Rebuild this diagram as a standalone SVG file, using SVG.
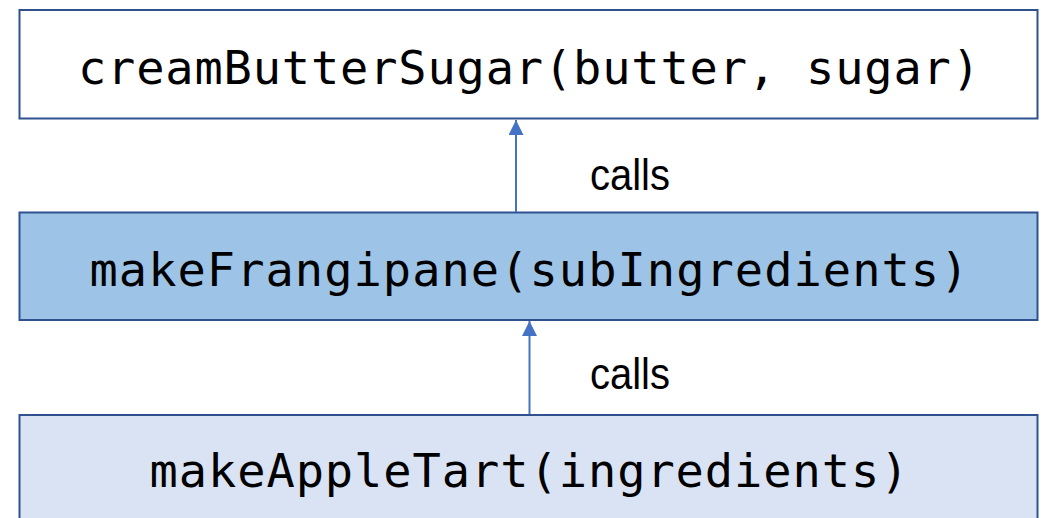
<svg xmlns="http://www.w3.org/2000/svg" width="1046" height="518" viewBox="0 0 1046 518">
<style>
.box{stroke:#2F528F;stroke-width:2}
.code{font-family:"DejaVu Sans Mono","Liberation Mono",monospace;font-size:47px;fill:#000;text-anchor:middle}
.lbl{font-family:"Liberation Sans",Arial,sans-serif;font-size:44px;fill:#000}
.conn{stroke:#4472C4;stroke-width:2;fill:none}
</style>
<defs>
<marker id="ah" viewBox="0 0 10 10" refX="10" refY="5" markerWidth="15" markerHeight="15" markerUnits="userSpaceOnUse" orient="auto">
<path d="M0,0 L10,5 L0,10 z" fill="#4472C4"/>
</marker>
</defs>
<rect width="1046" height="518" fill="#fff"/>
<g id="creamButterSugar">
<rect class="box" x="19.5" y="10" width="1018" height="108.5" fill="#fff"/>
<text class="code" x="529" y="84" textLength="902" lengthAdjust="spacing">creamButterSugar(butter, sugar)</text>
</g>
<g id="makeFrangipane">
<rect class="box" x="19.5" y="212.5" width="1018" height="107.5" fill="#9DC3E6"/>
<text class="code" x="529" y="286" textLength="879" lengthAdjust="spacing">makeFrangipane(subIngredients)</text>
</g>
<g id="makeAppleTart">
<rect class="box" x="19.5" y="415" width="1018" height="120" fill="#DAE3F3"/>
<text class="code" x="529" y="487" textLength="759" lengthAdjust="spacing">makeAppleTart(ingredients)</text>
</g>
<g id="connectors">
<line class="conn" x1="516" y1="212" x2="516" y2="120" marker-end="url(#ah)"/>
<line class="conn" x1="529.5" y1="414" x2="529.5" y2="321" marker-end="url(#ah)"/>
<text class="lbl" x="590" y="190" textLength="80" lengthAdjust="spacingAndGlyphs">calls</text>
<text class="lbl" x="590" y="389" textLength="80" lengthAdjust="spacingAndGlyphs">calls</text>
</g>
</svg>
